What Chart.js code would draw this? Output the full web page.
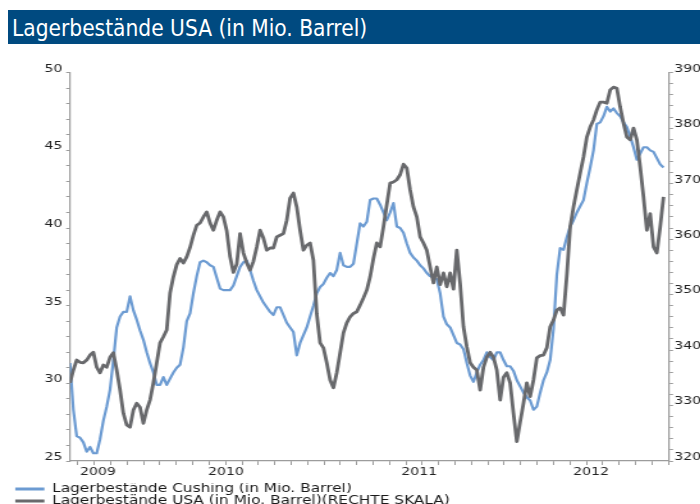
<!DOCTYPE html>
<html>
<head>
<meta charset="utf-8">
<script src="https://cdn.jsdelivr.net/npm/chart.js@4.4.1/dist/chart.umd.min.js"></script>
<style>
  html, body { margin: 0; padding: 0; background: #fff; }
  body { width: 700px; height: 504px; position: relative; overflow: hidden; }
  #title {
    position: absolute; left: 8px; top: 10px; width: 692px; height: 34px;
    box-sizing: border-box; padding-left: 4px;
    background: #004a80; color: #fff;
    font: 22.5px 'DejaVu Sans Condensed', 'DejaVu Sans', sans-serif; line-height: 36px;
    z-index: 2;
  }
  /* the original is stretched sideways, so the canvas is drawn narrow and widened */
  #chart { position: absolute; left: 0; top: 0; transform: scaleX(1.28); transform-origin: 0 0; }
</style>
</head>
<body>
<div id="title">Lagerbestände USA (in Mio. Barrel)</div>
<canvas id="chart" width="547" height="504"></canvas>
<script>
// weekly values
const cushing = [
  31.3, 28.3, 26.6, 26.5, 26.2, 25.6, 25.9, 25.5, 25.5, 26.4,
  27.6, 28.5, 29.6, 31.5, 33.6, 34.3, 34.6, 34.6, 35.6, 34.7,
  34.1, 33.4, 32.8, 32.0, 31.3, 30.7, 29.9, 29.9, 30.4, 29.9,
  30.3, 30.7, 31.0, 31.2, 32.3, 34.0, 34.5, 35.8, 36.9, 37.8,
  37.9, 37.8, 37.6, 37.5, 36.8, 36.1, 36.0, 36.0, 36.0, 36.3,
  36.9, 37.5, 37.8, 37.9, 37.3, 36.6, 36.0, 35.6, 35.2, 34.9,
  34.6, 34.4, 34.9, 34.9, 34.4, 33.9, 33.6, 33.3, 31.8, 32.6,
  33.1, 33.6, 34.3, 35.0, 35.8, 36.2, 36.4, 36.8, 37.1, 36.9,
  37.3, 38.4, 37.6, 37.5, 37.5, 37.7, 39.0, 40.3, 40.1, 40.4,
  41.8, 41.9, 41.9, 41.5, 41.0, 40.5, 41.0, 41.6, 40.1, 40.0,
  39.7, 39.0, 38.4, 38.1, 37.9, 37.6, 37.4, 37.1, 36.9, 36.8,
  36.7, 35.8, 34.3, 33.8, 33.6, 33.1, 32.6, 32.5, 32.2, 31.3,
  30.5, 30.1, 30.7, 31.2, 31.5, 32.0, 31.7, 31.5, 32.0, 32.0,
  31.5, 31.1, 31.1, 30.8, 30.2, 29.8, 29.4, 29.1, 28.9, 28.3,
  28.5, 29.4, 30.2, 30.7, 31.5, 33.5, 37.0, 38.7, 38.6, 39.4,
  40.1, 40.5, 41.0, 41.4, 41.8, 42.9, 43.9, 45.0, 46.7, 46.8,
  47.2, 47.8, 47.5, 47.7, 47.4, 47.2, 46.8, 46.5, 45.9, 45.2,
  44.4, 44.8, 45.2, 45.2, 45.0, 44.9, 44.5, 44.1, 43.9
];
const usa = [
  334.1, 336.4, 338.2, 337.8, 337.7, 338.2, 339.1, 339.6, 336.9, 335.9,
  337.3, 336.9, 338.7, 339.5, 336.4, 332.8, 328.6, 326.5, 326.1, 329.2,
  330.4, 329.7, 326.8, 329.2, 331.0, 334.1, 337.7, 341.3, 342.4, 343.6,
  350.3, 353.2, 355.4, 356.5, 355.7, 356.8, 358.5, 360.7, 362.5, 362.9,
  364.0, 364.9, 362.9, 361.6, 363.4, 364.9, 364.0, 361.5, 356.8, 354.0,
  355.5, 361.0, 357.5, 355.7, 354.4, 356.0, 358.6, 361.6, 360.2, 358.0,
  358.4, 358.4, 360.4, 360.7, 361.0, 363.4, 367.4, 368.3, 365.8, 361.6,
  358.0, 358.9, 359.3, 356.2, 346.5, 341.3, 340.4, 337.7, 334.6, 333.2,
  335.9, 339.5, 343.1, 344.9, 346.0, 346.6, 346.9, 348.1, 349.4, 350.8,
  353.2, 356.5, 359.3, 358.6, 362.2, 366.2, 370.1, 370.3, 370.7, 371.6,
  373.5, 372.8, 368.9, 365.8, 364.0, 360.4, 359.3, 358.0, 355.0, 352.1,
  355.0, 351.8, 353.9, 351.4, 353.9, 351.0, 358.0, 352.0, 344.2, 340.6,
  337.7, 336.9, 336.4, 332.8, 336.9, 338.7, 339.6, 338.7, 336.4, 331.0,
  335.1, 335.9, 334.1, 328.6, 323.5, 327.0, 330.4, 334.1, 331.6, 334.6,
  338.6, 339.0, 339.1, 340.4, 344.2, 345.4, 347.2, 347.6, 346.3, 353.5,
  362.2, 365.8, 368.9, 371.9, 374.8, 378.4, 380.2, 381.5, 383.3, 384.7,
  384.7, 384.5, 386.9, 387.4, 387.2, 383.8, 380.9, 378.4, 377.9, 380.0,
  377.9, 373.0, 367.6, 361.6, 364.6, 358.6, 357.5, 362.2, 367.6
];

// x axis is in weeks from the first value; month ticks and year labels
const monthTicks = Array.from({ length: 37 }, (_, k) => 2.4 + 4.917 * k);
const yearLabels = ['2009', '2010', '2011', '2012'];
const yearPos = [8.4, 46.8, 104.7, 156.3];

const AXIS = '#9c9c9c';
const TICKFONT = { family: 'DejaVu Sans', size: 11 };
const TICKCOLOR = '#222';

new Chart(document.getElementById('chart'), {
  type: 'line',
  data: {
    datasets: [
      {
        label: 'Lagerbestände Cushing (in Mio. Barrel)',
        data: cushing.map((v, i) => ({ x: i, y: v })),
        borderColor: '#6c9bd2',
        backgroundColor: '#6c9bd2',
        borderWidth: 2.2,
        yAxisID: 'y',
        order: 1
      },
      {
        label: 'Lagerbestände USA (in Mio. Barrel)(RECHTE SKALA)',
        data: usa.map((v, i) => ({ x: i, y: v })),
        borderColor: '#68696c',
        backgroundColor: '#68696c',
        borderWidth: 2.8,
        yAxisID: 'y2',
        order: 0
      }
    ]
  },
  options: {
    responsive: false,
    animation: false,
    layout: { padding: { left: 11.7, right: 0, top: 72.7, bottom: -13 } },
    elements: {
      point: { radius: 0 },
      line: { tension: 0, borderJoinStyle: 'round' }
    },
    scales: {
      x: {
        type: 'linear',
        min: 0,
        max: 179.7,
        afterBuildTicks: s => {
          s.ticks = [...monthTicks, ...yearPos].sort((a, b) => a - b).map(v => ({ value: v }));
        },
        afterFit: s => { s.height = 22; },
        grid: {
          drawOnChartArea: false,
          tickLength: 4,
          tickColor: c => (c.tick && yearPos.includes(c.tick.value)) ? 'transparent' : AXIS
        },
        border: { color: AXIS, width: 1.2 },
        ticks: {
          autoSkip: false,
          maxRotation: 0,
          padding: 1,
          font: TICKFONT,
          color: TICKCOLOR,
          callback: v => {
            const i = yearPos.indexOf(v);
            return i >= 0 ? yearLabels[i] : '';
          }
        }
      },
      y: {
        position: 'left',
        min: 25,
        max: 50,
        afterFit: s => { s.width = 43; },
        grid: { drawOnChartArea: false, tickLength: 3, tickColor: AXIS },
        border: { color: AXIS, width: 1.2 },
        ticks: {
          stepSize: 1,
          maxTicksLimit: 100,
          autoSkip: false,
          padding: 3,
          labelOffset: -4,
          font: TICKFONT,
          color: TICKCOLOR,
          callback: v => v % 5 === 0 ? v : ''
        }
      },
      y2: {
        position: 'right',
        min: 320,
        max: 390,
        afterFit: s => { s.width = 24.2; },
        grid: { drawOnChartArea: false, tickLength: 3, tickColor: AXIS },
        border: { color: AXIS, width: 1.2 },
        ticks: {
          stepSize: 2,
          maxTicksLimit: 100,
          autoSkip: false,
          padding: 1,
          labelOffset: -4,
          font: TICKFONT,
          color: TICKCOLOR,
          callback: v => v % 10 === 0 ? v : ''
        }
      }
    },
    plugins: {
      legend: {
        position: 'bottom',
        align: 'start',
        labels: {
          boxWidth: 23,
          boxHeight: 3,
          padding: 0,
          font: { family: 'DejaVu Sans', size: 12 },
          color: '#1a1a1a',
          sort: (a, b) => a.datasetIndex - b.datasetIndex,
          generateLabels: chart =>
            Chart.defaults.plugins.legend.labels.generateLabels(chart)
              .map(l => ({ ...l, fillStyle: l.strokeStyle, lineWidth: 0 }))
        }
      },
      tooltip: { enabled: false }
    }
  }
});
</script>
</body>
</html>
